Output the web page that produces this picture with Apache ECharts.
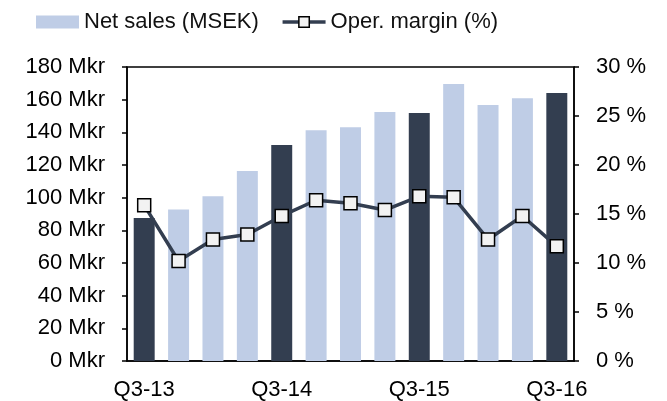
<!DOCTYPE html>
<html>
<head>
<meta charset="utf-8">
<script src="https://cdn.jsdelivr.net/npm/echarts@6/dist/echarts.min.js"></script>
<style>
  html, body { margin: 0; padding: 0; background: #fff; }
  #chart { width: 667px; height: 401px; }
</style>
</head>
<body>
<div id="chart"></div>
<script>
// kvartal, nettoomsättning och rörelsemarginal
var quarters = ['Q3-13','Q4-13','Q1-14','Q2-14','Q3-14','Q4-14','Q1-15','Q2-15','Q3-15','Q4-15','Q1-16','Q2-16','Q3-16'];
var netSales = [87.5, 92.7, 100.8, 116.3, 132.3, 141.2, 143.1, 152.5, 151.9, 169.6, 156.8, 160.9, 164.1];
var operMargin = [15.9, 10.2, 12.4, 12.9, 14.8, 16.4, 16.1, 15.4, 16.8, 16.7, 12.4, 14.8, 11.7];

var light = '#bfcde6';
var dark = '#333e50';
var font = 'Liberation Sans';

var myChart = echarts.init(document.getElementById('chart'));

// Q3-staplar mörka
var barData = netSales.map(function (v, i) {
  return {
    value: v,
    itemStyle: { color: quarters[i].indexOf('Q3') === 0 ? dark : light }
  };
});

var option = {
  animation: false,
  legend: {
    left: 36,
    top: 11,
    padding: 0,
    itemGap: 22,
    itemWidth: 43,
    itemHeight: 13,
    textStyle: { fontFamily: font, fontSize: 22, color: '#111' },
    data: [
      { name: 'Net sales (MSEK)', icon: 'rect', itemStyle: { color: light } },
      {
        name: 'Oper. margin (%)',
        lineStyle: { color: dark, width: 3.5 },
        itemStyle: { color: '#f2f2f2', borderColor: '#000', borderWidth: 1.5 }
      }
    ]
  },
  grid: { left: 127, right: 93, top: 67, bottom: 40, show: true, borderColor: '#000', borderWidth: 1.5 },
  xAxis: {
    type: 'category',
    data: quarters,
    boundaryGap: true,
    axisLine: { lineStyle: { color: '#000', width: 1.5 } },
    axisTick: { interval: 0, length: 5, lineStyle: { color: '#000', width: 1.5 } },
    axisLabel: { interval: 3, margin: 18, fontFamily: font, fontSize: 22, color: '#000' }
  },
  yAxis: [
    {
      type: 'value',
      min: 0, max: 180, interval: 20,
      splitLine: { show: false },
      axisLine: { show: true, lineStyle: { color: '#000', width: 1.5 } },
      axisTick: { show: true, length: 5, lineStyle: { color: '#000', width: 1.5 } },
      axisLabel: { formatter: '{value} Mkr', margin: 22, fontFamily: font, fontSize: 22, color: '#000' }
    },
    {
      type: 'value',
      min: 0, max: 30, interval: 5,
      splitLine: { show: false },
      axisLine: { show: true, lineStyle: { color: '#000', width: 1.5 } },
      axisTick: { show: true, length: 5, lineStyle: { color: '#000', width: 1.5 } },
      axisLabel: { formatter: '{value} %', margin: 22, fontFamily: font, fontSize: 22, color: '#000' }
    }
  ],
  series: [
    {
      name: 'Net sales (MSEK)',
      type: 'bar',
      barCategoryGap: '39%',
      itemStyle: { color: light },
      data: barData
    },
    {
      name: 'Oper. margin (%)',
      type: 'line',
      yAxisIndex: 1,
      z: 5,
      symbol: 'rect',
      symbolSize: 13,
      lineStyle: { color: dark, width: 3.5 },
      itemStyle: { color: '#f2f2f2', borderColor: '#000', borderWidth: 1.5 },
      data: operMargin
    }
  ]
};

myChart.setOption(option);
</script>
</body>
</html>
